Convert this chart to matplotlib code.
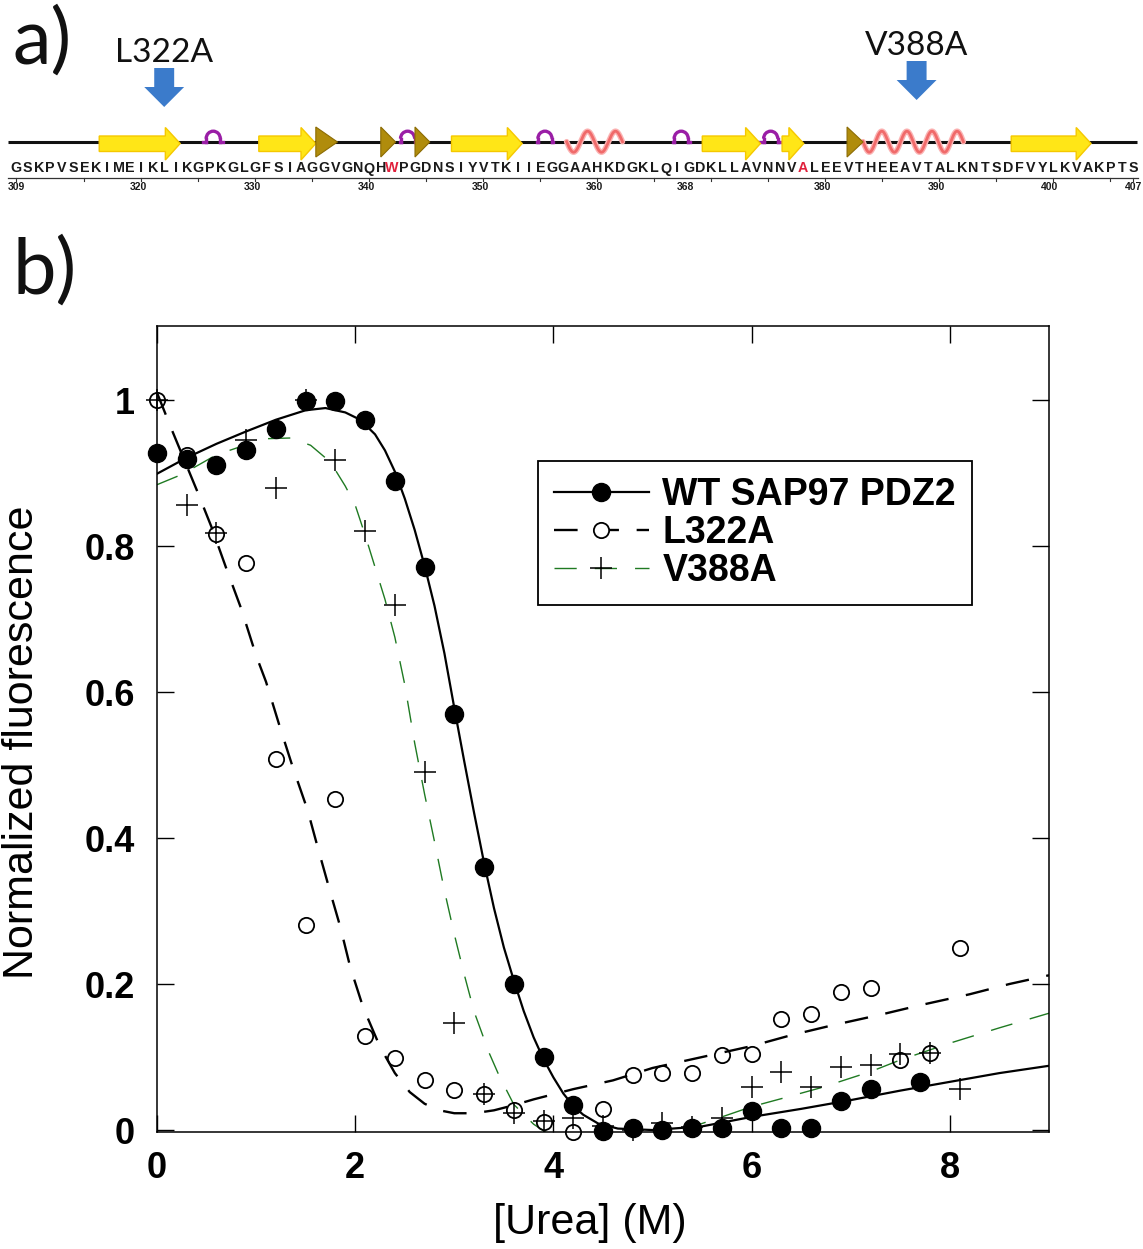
import numpy as np
import matplotlib
matplotlib.use('Agg')
import matplotlib.pyplot as plt
from matplotlib import font_manager
from matplotlib.lines import Line2D
from matplotlib.patches import Polygon, Arc

W, H = 1143, 1249

# ---------- panel a: sequence and secondary structure ----------
sequence = "GSKPVSEKIMEIKLIKGPKGLGFSIAGGVGNQHWPGDNSIYVTKIIEGGAAHKDGKLQIGDKLLAVNNVALEEVTHEEAVTALKNTSDFVYLKVAKPTS"
first_res = 309
red_residues = [342, 378]
strands = [(316.3, 323.4), (330.3, 335.3), (347.2, 353.4), (369.2, 374.3), (376.2, 378.1), (396.3, 403.3)]
bends = [(335.3, 337.2), (341.0, 342.3), (344.0, 345.3), (381.9, 383.3)]
turns = [(325.4, 327.2), (342.7, 344.0), (354.7, 356.1), (366.6, 368.1), (374.2, 376.2)]
helices = [(357.3, 362.2), (383.3, 392.1)]
helix_turns = [2, 4]
mutations = [322, 388]
mutation_names = ['L322A', 'V388A']
number_ticks = [309, 320, 330, 340, 350, 360, 368, 380, 390, 400, 407]

# ---------- panel b: urea denaturation ----------
urea_wt = [0, 0.3, 0.6, 0.9, 1.2, 1.5, 1.8, 2.1, 2.4, 2.7, 3.0, 3.3, 3.6, 3.9, 4.2,
           4.5, 4.8, 5.1, 5.4, 5.7, 6.0, 6.3, 6.6, 6.9, 7.2, 7.7]
fl_wt = [0.927, 0.919, 0.911, 0.932, 0.960, 0.999, 0.999, 0.973, 0.889, 0.771, 0.570,
         0.360, 0.200, 0.100, 0.034, -0.002, 0.003, 0.000, 0.003, 0.003, 0.026, 0.003,
         0.003, 0.040, 0.056, 0.066]

urea_mut = [0, 0.3, 0.6, 0.9, 1.2, 1.5, 1.8, 2.1, 2.4, 2.7, 3.0, 3.3, 3.6, 3.9, 4.2,
            4.5, 4.8, 5.1, 5.4, 5.7, 6.0, 6.3, 6.6, 6.9, 7.2, 7.5, 7.8, 8.1]
fl_l322a = [1.0, 0.925, 0.816, 0.777, 0.508, 0.281, 0.453, 0.129, 0.099, 0.068, 0.055,
            0.050, 0.027, 0.011, -0.003, 0.029, 0.075, 0.078, 0.078, 0.103, 0.104, 0.152,
            0.159, 0.189, 0.195, 0.096, 0.105, 0.249]
fl_v388a = [1.0, 0.856, 0.818, 0.945, 0.879, 1.0, 0.918, 0.821, 0.719, 0.490, 0.146,
            0.050, 0.023, 0.012, 0.016, 0.005, 0.000, 0.009, 0.004, 0.016, 0.059, 0.080,
            0.059, 0.087, 0.089, 0.104, 0.105, 0.056]

# fitted curves
fit_wt_x = [0.0, 0.3, 0.6, 0.9, 1.2, 1.5, 1.7, 1.9, 2.05, 2.2, 2.3, 2.4, 2.5, 2.6, 2.7,
            2.8, 2.9, 3.0, 3.1, 3.2, 3.3, 3.4, 3.5, 3.6, 3.7, 3.8, 3.9, 4.0, 4.1, 4.2,
            4.3, 4.45, 4.65, 5.0, 5.5, 6.0, 6.5, 7.0, 7.5, 8.0, 8.5, 9.0]
fit_wt_y = [0.899, 0.921, 0.940, 0.957, 0.973, 0.986, 0.989, 0.983, 0.973, 0.953, 0.931,
            0.902, 0.865, 0.822, 0.773, 0.718, 0.653, 0.578, 0.505, 0.434, 0.366, 0.304,
            0.250, 0.205, 0.163, 0.127, 0.097, 0.072, 0.050, 0.033, 0.021, 0.009, 0.002,
            0.0, 0.005, 0.018, 0.029, 0.041, 0.054, 0.066, 0.078, 0.088]
fit_l322a_x = [0.0, 0.15, 0.4, 0.55, 0.7, 0.85, 1.0, 1.1, 1.24, 1.37, 1.52, 1.62, 1.75,
               1.85, 1.95, 2.08, 2.25, 2.4, 2.55, 2.7, 2.85, 3.0, 3.2, 3.4, 3.6, 3.8,
               4.2, 4.6, 5.0, 5.5, 6.0, 6.4, 6.8, 7.3, 7.7, 8.2, 8.6, 9.0]
fit_l322a_y = [1.01, 0.959, 0.877, 0.826, 0.769, 0.714, 0.650, 0.614, 0.552, 0.497, 0.438,
               0.388, 0.325, 0.278, 0.223, 0.168, 0.114, 0.078, 0.052, 0.036, 0.027,
               0.023, 0.023, 0.027, 0.034, 0.042, 0.056, 0.068, 0.085, 0.100, 0.115,
               0.130, 0.143, 0.158, 0.171, 0.186, 0.200, 0.212]
fit_v388a_x = [0.0, 0.25, 0.6, 0.95, 1.1, 1.35, 1.55, 1.75, 1.9, 2.0, 2.1, 2.2, 2.3, 2.4,
               2.5, 2.6, 2.7, 2.8, 2.9, 3.0, 3.1, 3.2, 3.35, 3.45, 3.6, 3.8, 4.0, 4.5,
               5.0, 5.3, 5.7, 6.0, 6.3, 6.7, 7.2, 7.5, 8.0, 8.5, 9.0]
fit_v388a_y = [0.884, 0.898, 0.925, 0.941, 0.947, 0.948, 0.938, 0.915, 0.882, 0.856, 0.815,
               0.771, 0.727, 0.675, 0.610, 0.530, 0.460, 0.395, 0.328, 0.268, 0.213,
               0.162, 0.106, 0.075, 0.035, 0.008, -0.010, -0.020, -0.010, 0.0, 0.018,
               0.032, 0.043, 0.058, 0.080, 0.096, 0.119, 0.140, 0.160]

x_ticks = [0, 2, 4, 6, 8]
x_tick_labels = ['0', '2', '4', '6', '8']
y_ticks = [0, 0.2, 0.4, 0.6, 0.8, 1.0]
y_tick_labels = ['0', '0.2', '0.4', '0.6', '0.8', '1']

installed = {f.name for f in font_manager.fontManager.ttflist}
seq_font = 'Liberation Sans'
num_font = 'Liberation Sans Narrow' if 'Liberation Sans Narrow' in installed else 'Liberation Sans'
label_font = 'Lato' if 'Lato' in installed else 'DejaVu Sans'
plt.rcParams['font.family'] = ['Liberation Sans', 'DejaVu Sans']

fig = plt.figure(figsize=(W / 100, H / 100), dpi=100)

# ---- panel a ----
axa = fig.add_axes([0, 1 - 200 / H, 1, 200 / H])
axa.set_xlim(first_res - 16 / 11.4, first_res + 1127 / 11.4)
axa.set_ylim(200, 0)          # y in pixels from the top
axa.axis('off')

base = 141.7
last_res = first_res + len(sequence) - 1
axa.plot([first_res - 0.7, last_res + 0.3], [base, base], color='#111111', lw=2.2,
         solid_capstyle='butt', zorder=1)

for x0, x1 in strands:
    head = 1.3
    pts = [(x0, 136), (x1 - head, 136), (x1 - head, 127.5), (x1, 143.5),
           (x1 - head, 160), (x1 - head, 151.5), (x0, 151.5)]
    axa.add_patch(Polygon(pts, closed=True, fc='#ffe617', ec='#f5c800', lw=1, zorder=3))

for x0, x1 in bends:
    axa.add_patch(Polygon([(x0, 127), (x1, 142), (x0, 157)], closed=True,
                          fc='#b08c0c', ec='#8c6c04', lw=0.8, zorder=3))

for x0, x1 in turns:
    xc = (x0 + x1) / 2
    r = 0.62
    axa.plot([x0, xc - r], [base, base], color='#9a1ea6', lw=2.4, zorder=2)
    axa.plot([xc + r, x1], [base, base], color='#9a1ea6', lw=2.4, zorder=2)
    axa.plot([xc - r, xc - r], [base, base - 3], color='#9a1ea6', lw=2.4, zorder=2)
    axa.plot([xc + r, xc + r], [base, base - 3], color='#9a1ea6', lw=2.4, zorder=2)
    axa.add_patch(Arc((xc, base - 3), 2 * r, 15, theta1=180, theta2=360,
                      color='#9a1ea6', lw=2.4, zorder=2))

for (x0, x1), n in zip(helices, helix_turns):
    xs = np.linspace(x0, x1, 300)
    ys = base + 10.5 * np.sin(2 * np.pi * n * (xs - x0) / (x1 - x0))
    axa.plot(xs, ys, color='#fbb3b3', lw=4.0, zorder=2, solid_capstyle='round')
    axa.plot(xs, ys, color='#f06a6a', lw=2.0, zorder=2)

for i, aa in enumerate(sequence):
    res = first_res + i
    axa.text(res, 168.5, aa, ha='center', va='center', fontsize=10.3, fontweight='bold',
             family=seq_font, color='#e0203c' if res in red_residues else '#1a1a1a')

axa.plot([first_res - 0.7, last_res + 0.4], [177.5, 177.5], color='#333333', lw=0.9)
small_ticks = [first_res] + list(range(315, last_res, 5)) + [last_res]
for t in small_ticks:
    axa.plot([t, t], [177.5, 181], color='#333333', lw=0.8)
for t in number_ticks:
    axa.text(t - 0.3 if t not in (first_res, last_res) else t, 187.5, str(t), ha='center',
             va='center', fontsize=7.5, fontweight='bold', family=num_font, color='#1a1a1a')

arrow_tops = [68, 61]
for res, name, top in zip(mutations, mutation_names, arrow_tops):
    axa.text(res, top - 15, name, ha='center', va='center', fontsize=24, family=label_font,
             color='#111111')
    axa.arrow(res, top, 0, 39, width=1.75, head_width=3.5, head_length=20,
              length_includes_head=True, fc='#3b7bcb', ec='none', zorder=3)

fig.text(42 / W, 1 - 42 / H, 'a)', ha='center', va='center', fontsize=56,
         family=label_font, color='#111111')
fig.text(45 / W, 1 - 272 / H, 'b)', ha='center', va='center', fontsize=56,
         family=label_font, color='#111111')

# ---- panel b ----
ax = fig.add_axes([157 / W, 1 - 1132 / H, 892 / W, 806 / H])
ax.set_xlim(0, 9)
ax.set_ylim(-0.0027, 1.1014)

green = '#1f7a22'
ax.plot(fit_wt_x, fit_wt_y, color='black', lw=1.6, zorder=2)
ax.plot(fit_l322a_x, fit_l322a_y, color='black', lw=1.7, dashes=(10, 7.5), zorder=2)
ax.plot(fit_v388a_x, fit_v388a_y, color=green, lw=1.0, dashes=(16, 13), zorder=2)

ax.plot(urea_wt, fl_wt, 'o', color='black', ms=13, clip_on=False, zorder=4)
ax.plot(urea_mut, fl_l322a, 'o', mfc='none', mec='black', ms=11, mew=1.3,
        clip_on=False, zorder=5)
ax.plot(urea_mut, fl_v388a, '+', color='black', ms=16, mew=1.1, clip_on=False, zorder=5)

ax.set_xticks(x_ticks)
ax.set_xticklabels(x_tick_labels, fontsize=26, fontweight='bold')
ax.set_yticks(y_ticks)
ax.set_yticklabels(y_tick_labels, fontsize=26, fontweight='bold')
ax.tick_params(direction='in', top=True, right=True, length=12, width=1.0)
ax.tick_params(axis='y', pad=16)
ax.tick_params(axis='x', pad=14)
for sp in ax.spines.values():
    sp.set_linewidth(1.1)

ax.set_xlabel('[Urea] (M)', fontsize=31)
ax.set_ylabel('Normalized fluorescence', fontsize=31)
ax.xaxis.set_label_coords(0.485, -0.088)
ax.yaxis.set_label_coords(-0.129, 0.484)

handles = [
    Line2D([], [], color='black', lw=1.6, marker='o', ms=13),
    Line2D([], [], color='black', lw=1.7, dashes=(10, 7.5), marker='o', mfc='white',
           mec='black', ms=11, mew=1.3),
    Line2D([], [], color=green, lw=1.0, dashes=(16, 13), marker='+', mec='black',
           ms=16, mew=1.1),
]
leg = ax.legend(handles, ['WT SAP97 PDZ2', 'L322A', 'V388A'], loc='upper left',
                bbox_to_anchor=(0.427, 0.8325), borderaxespad=0, fancybox=False,
                framealpha=1, edgecolor='black', handlelength=2.55, handletextpad=0.35,
                labelspacing=0.06, borderpad=0.42, numpoints=1,
                prop=dict(family='Liberation Sans', weight='bold', size=27))
leg.get_frame().set_linewidth(1.3)

fig.savefig('out.png', dpi=100)
